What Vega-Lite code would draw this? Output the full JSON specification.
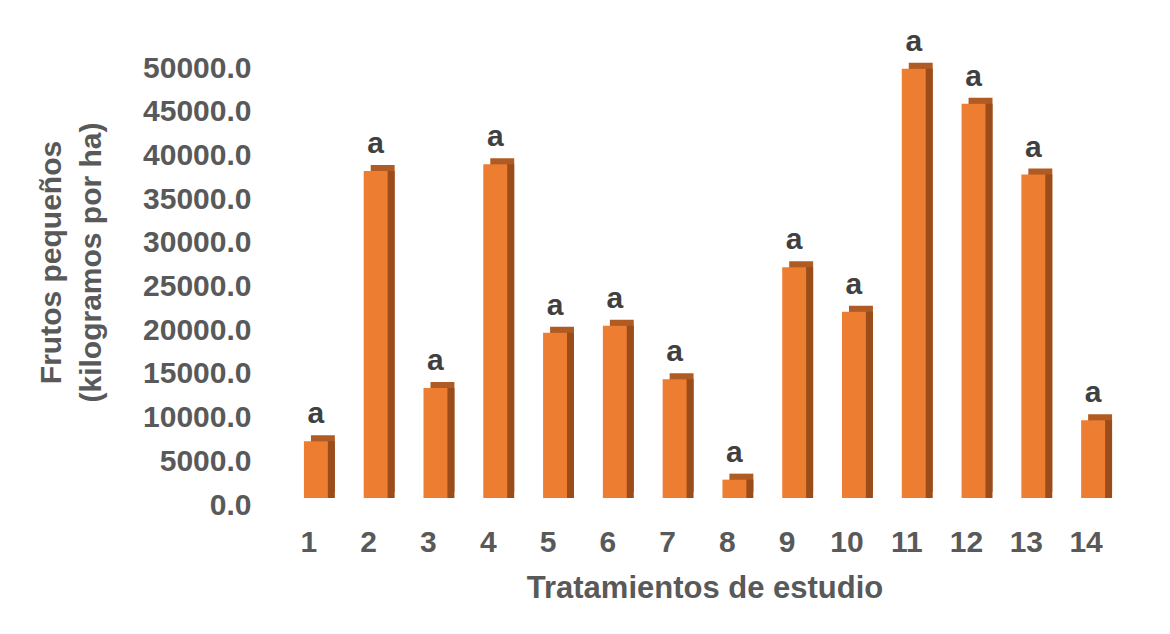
{
  "$schema": "https://vega.github.io/schema/vega-lite/v6.json",
  "autosize": "none",
  "width": 837,
  "height": 437,
  "padding": {"left": 286, "top": 61, "right": 47, "bottom": 136},
  "background": "white",
  "config": {
    "view": {"stroke": null},
    "font": "Liberation Sans",
    "axis": {"grid": false, "domain": false, "ticks": false, "tickSize": 0, "labelColor": "#595959", "titleColor": "#595959", "labelFont": "Liberation Sans", "titleFont": "Liberation Sans", "labelFontWeight": "bold", "titleFontWeight": "bold"}
  },
  "data": {"values": [
    {"tratamiento": "1", "valor": 6500, "letra": "a"},
    {"tratamiento": "2", "valor": 37400, "letra": "a"},
    {"tratamiento": "3", "valor": 12600, "letra": "a"},
    {"tratamiento": "4", "valor": 38200, "letra": "a"},
    {"tratamiento": "5", "valor": 18900, "letra": "a"},
    {"tratamiento": "6", "valor": 19700, "letra": "a"},
    {"tratamiento": "7", "valor": 13600, "letra": "a"},
    {"tratamiento": "8", "valor": 2100, "letra": "a"},
    {"tratamiento": "9", "valor": 26400, "letra": "a"},
    {"tratamiento": "10", "valor": 21300, "letra": "a"},
    {"tratamiento": "11", "valor": 49100, "letra": "a"},
    {"tratamiento": "12", "valor": 45100, "letra": "a"},
    {"tratamiento": "13", "valor": 37000, "letra": "a"},
    {"tratamiento": "14", "valor": 8900, "letra": "a"}
  ]},
  "encoding": {
    "x": {
      "field": "tratamiento", "type": "ordinal", "sort": null,
      "scale": {"paddingInner": 0.6, "paddingOuter": 0.3},
      "axis": {"title": "Tratamientos de estudio", "labelAngle": 0, "labelFontSize": 30, "titleFontSize": 31, "labelPadding": 29, "labelOffset": -7, "titlePadding": 16}
    },
    "y": {
      "field": "valor", "type": "quantitative",
      "scale": {"domain": [0, 50000], "nice": false},
      "axis": {"title": ["Frutos pequeños", "(kilogramos por ha)"], "values": [0, 5000, 10000, 15000, 20000, 25000, 30000, 35000, 40000, 45000, 50000], "format": ".1f", "labelFontSize": 30, "titleFontSize": 30, "labelPadding": 35, "labelOffset": 7, "titlePadding": 36, "titleLineHeight": 40, "titleY": 201}
    }
  },
  "layer": [
    {"mark": {"type": "bar", "color": "#AF5B23", "xOffset": 7, "x2Offset": 7, "yOffset": -6, "y2Offset": -6}},
    {"mark": {"type": "bar", "color": "#9A4D1B", "xOffset": 7, "x2Offset": 7}},
    {"mark": {"type": "bar", "color": "#ED7D31"}},
    {"mark": {"type": "text", "fontSize": 30, "fontWeight": "bold", "color": "#404040", "baseline": "alphabetic", "dy": -18, "font": "Liberation Sans"}, "encoding": {"text": {"field": "letra"}}}
  ]
}
